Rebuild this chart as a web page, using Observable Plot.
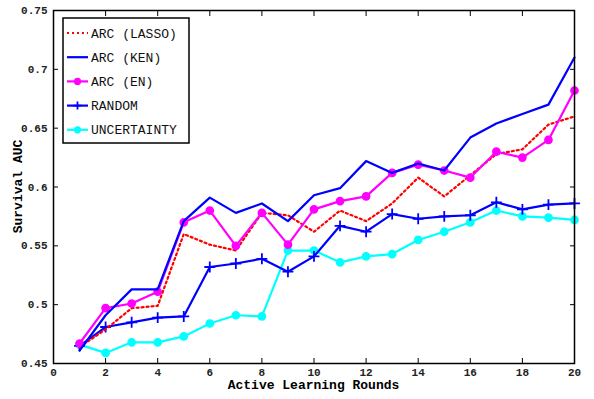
<!DOCTYPE html>
<html><head><meta charset="utf-8">
<script src="https://cdn.jsdelivr.net/npm/d3@7"></script>
<script src="https://cdn.jsdelivr.net/npm/@observablehq/plot@0.6"></script>
<style>body{margin:0;background:#fff}</style>
</head><body><div id="chart"></div>
<script>
const rounds = [1,2,3,4,5,6,7,8,9,10,11,12,13,14,15,16,17,18,19,20];
const arcLasso = [0.464,0.479,0.497,0.499,0.560,0.551,0.546,0.578,0.576,0.562,0.580,0.571,0.586,0.608,0.592,0.610,0.628,0.632,0.653,0.660];
const arcKen = [0.461,0.491,0.513,0.513,0.571,0.591,0.578,0.586,0.571,0.593,0.599,0.622,0.612,0.620,0.614,0.642,0.654,0.662,0.670,0.710];
const arcEn = [0.467,0.497,0.501,0.511,0.570,0.580,0.550,0.578,0.551,0.581,0.588,0.592,0.612,0.619,0.614,0.608,0.630,0.625,0.640,0.682];
const randomS = [0.465,0.481,0.485,0.489,0.490,0.532,0.535,0.539,0.528,0.541,0.567,0.562,0.577,0.573,0.575,0.576,0.587,0.581,0.585,0.586];
const uncertainty = [0.466,0.459,0.468,0.468,0.473,0.484,0.491,0.490,0.546,0.546,0.536,0.541,0.543,0.555,0.562,0.570,0.580,0.575,0.574,0.572];
const xTicks = [0,2,4,6,8,10,12,14,16,18,20];
const yTicks = [0.45,0.5,0.55,0.6,0.65,0.7,0.75];

const seriesDefs = [
  {name:"ARC (LASSO)", values:arcLasso, color:"#ff0000", dash:"2,3", marker:null},
  {name:"ARC (KEN)", values:arcKen, color:"#0000ff", dash:null, marker:null},
  {name:"ARC (EN)", values:arcEn, color:"#ff00ff", dash:null, marker:"dot"},
  {name:"RANDOM", values:randomS, color:"#0000ff", dash:null, marker:"plus"},
  {name:"UNCERTAINTY", values:uncertainty, color:"#00ffff", dash:null, marker:"dot"}
];
const toRows = s => rounds.map((r,i)=>({x:r, y:s.values[i]}));
const mono = "'Liberation Mono','DejaVu Sans Mono',monospace";

const marks = [];
const order = [4,3,0,2,1];
for (const k of order) {
  const s = seriesDefs[k];
  const rows = toRows(s);
  marks.push(Plot.line(rows, {x:"x", y:"y", stroke:s.color, strokeWidth:2.2, strokeDasharray:s.dash}));
  if (s.marker === "dot") marks.push(Plot.dot(rows, {x:"x", y:"y", r:3.6, fill:s.color, stroke:s.color}));
  if (s.marker === "plus") marks.push(Plot.dot(rows, {x:"x", y:"y", r:3.6, symbol:"plus", stroke:s.color, strokeWidth:1.8}));
}

const plot = Plot.plot({
  width:594, height:399,
  marginLeft:53, marginRight:20, marginTop:10, marginBottom:36,
  x:{domain:[0,20]},
  y:{domain:[0.45,0.75]},
  style:{fontFamily:mono, background:"#fff"},
  marks:[
    ...marks,
    Plot.frame({stroke:"#000", strokeWidth:1.5}),
    Plot.axisX(xTicks, {anchor:"bottom", tickSize:0, tickPadding:5, fontSize:11, fontWeight:"bold", fill:"#222", label:null}),
    Plot.axisY(yTicks, {anchor:"left", tickSize:0, tickPadding:6, fontSize:11, fontWeight:"bold", fill:"#222", label:null, tickFormat:d=>String(+d.toFixed(2))}),
    Plot.axisX(xTicks, {anchor:"bottom", tickSize:-5, text:null, label:null}),
    Plot.axisX(xTicks, {anchor:"top", tickSize:-5, text:null, label:null}),
    Plot.axisY(yTicks, {anchor:"left", tickSize:-5, text:null, label:null}),
    Plot.axisY(yTicks, {anchor:"right", tickSize:-5, text:null, label:null})
  ]
});
document.getElementById("chart").appendChild(plot);

const svg = d3.select(plot);

svg.append("text").attr("x",(53+574)/2).attr("y",389).attr("text-anchor","middle")
  .attr("font-family",mono).attr("font-size",13).attr("font-weight","bold").text("Active Learning Rounds");
svg.append("text").attr("transform",`translate(22,${(10+363)/2}) rotate(-90)`).attr("text-anchor","middle")
  .attr("font-family",mono).attr("font-size",13).attr("font-weight","bold").text("Survival AUC");

const lg = svg.append("g");
lg.append("rect").attr("x",63).attr("y",18).attr("width",126).attr("height",125).attr("fill","#fff").attr("stroke","#000").attr("stroke-width",1.5);
seriesDefs.forEach((s,i)=>{
  const yy = 33 + i*24.2;
  lg.append("line").attr("x1",67).attr("x2",88).attr("y1",yy).attr("y2",yy).attr("stroke",s.color).attr("stroke-width",2.2).attr("stroke-dasharray",s.dash);
  if (s.marker==="dot") lg.append("circle").attr("cx",77.5).attr("cy",yy).attr("r",3.6).attr("fill",s.color);
  if (s.marker==="plus") lg.append("path").attr("d",`M73.5,${yy}H81.5M77.5,${yy-4}V${yy+4}`).attr("stroke",s.color).attr("stroke-width",1.8);
  lg.append("text").attr("x",91).attr("y",yy).attr("dy","0.35em").attr("text-anchor","start").attr("font-family",mono).attr("font-size",13).attr("fill","#111").text(s.name);
});
</script></body></html>
